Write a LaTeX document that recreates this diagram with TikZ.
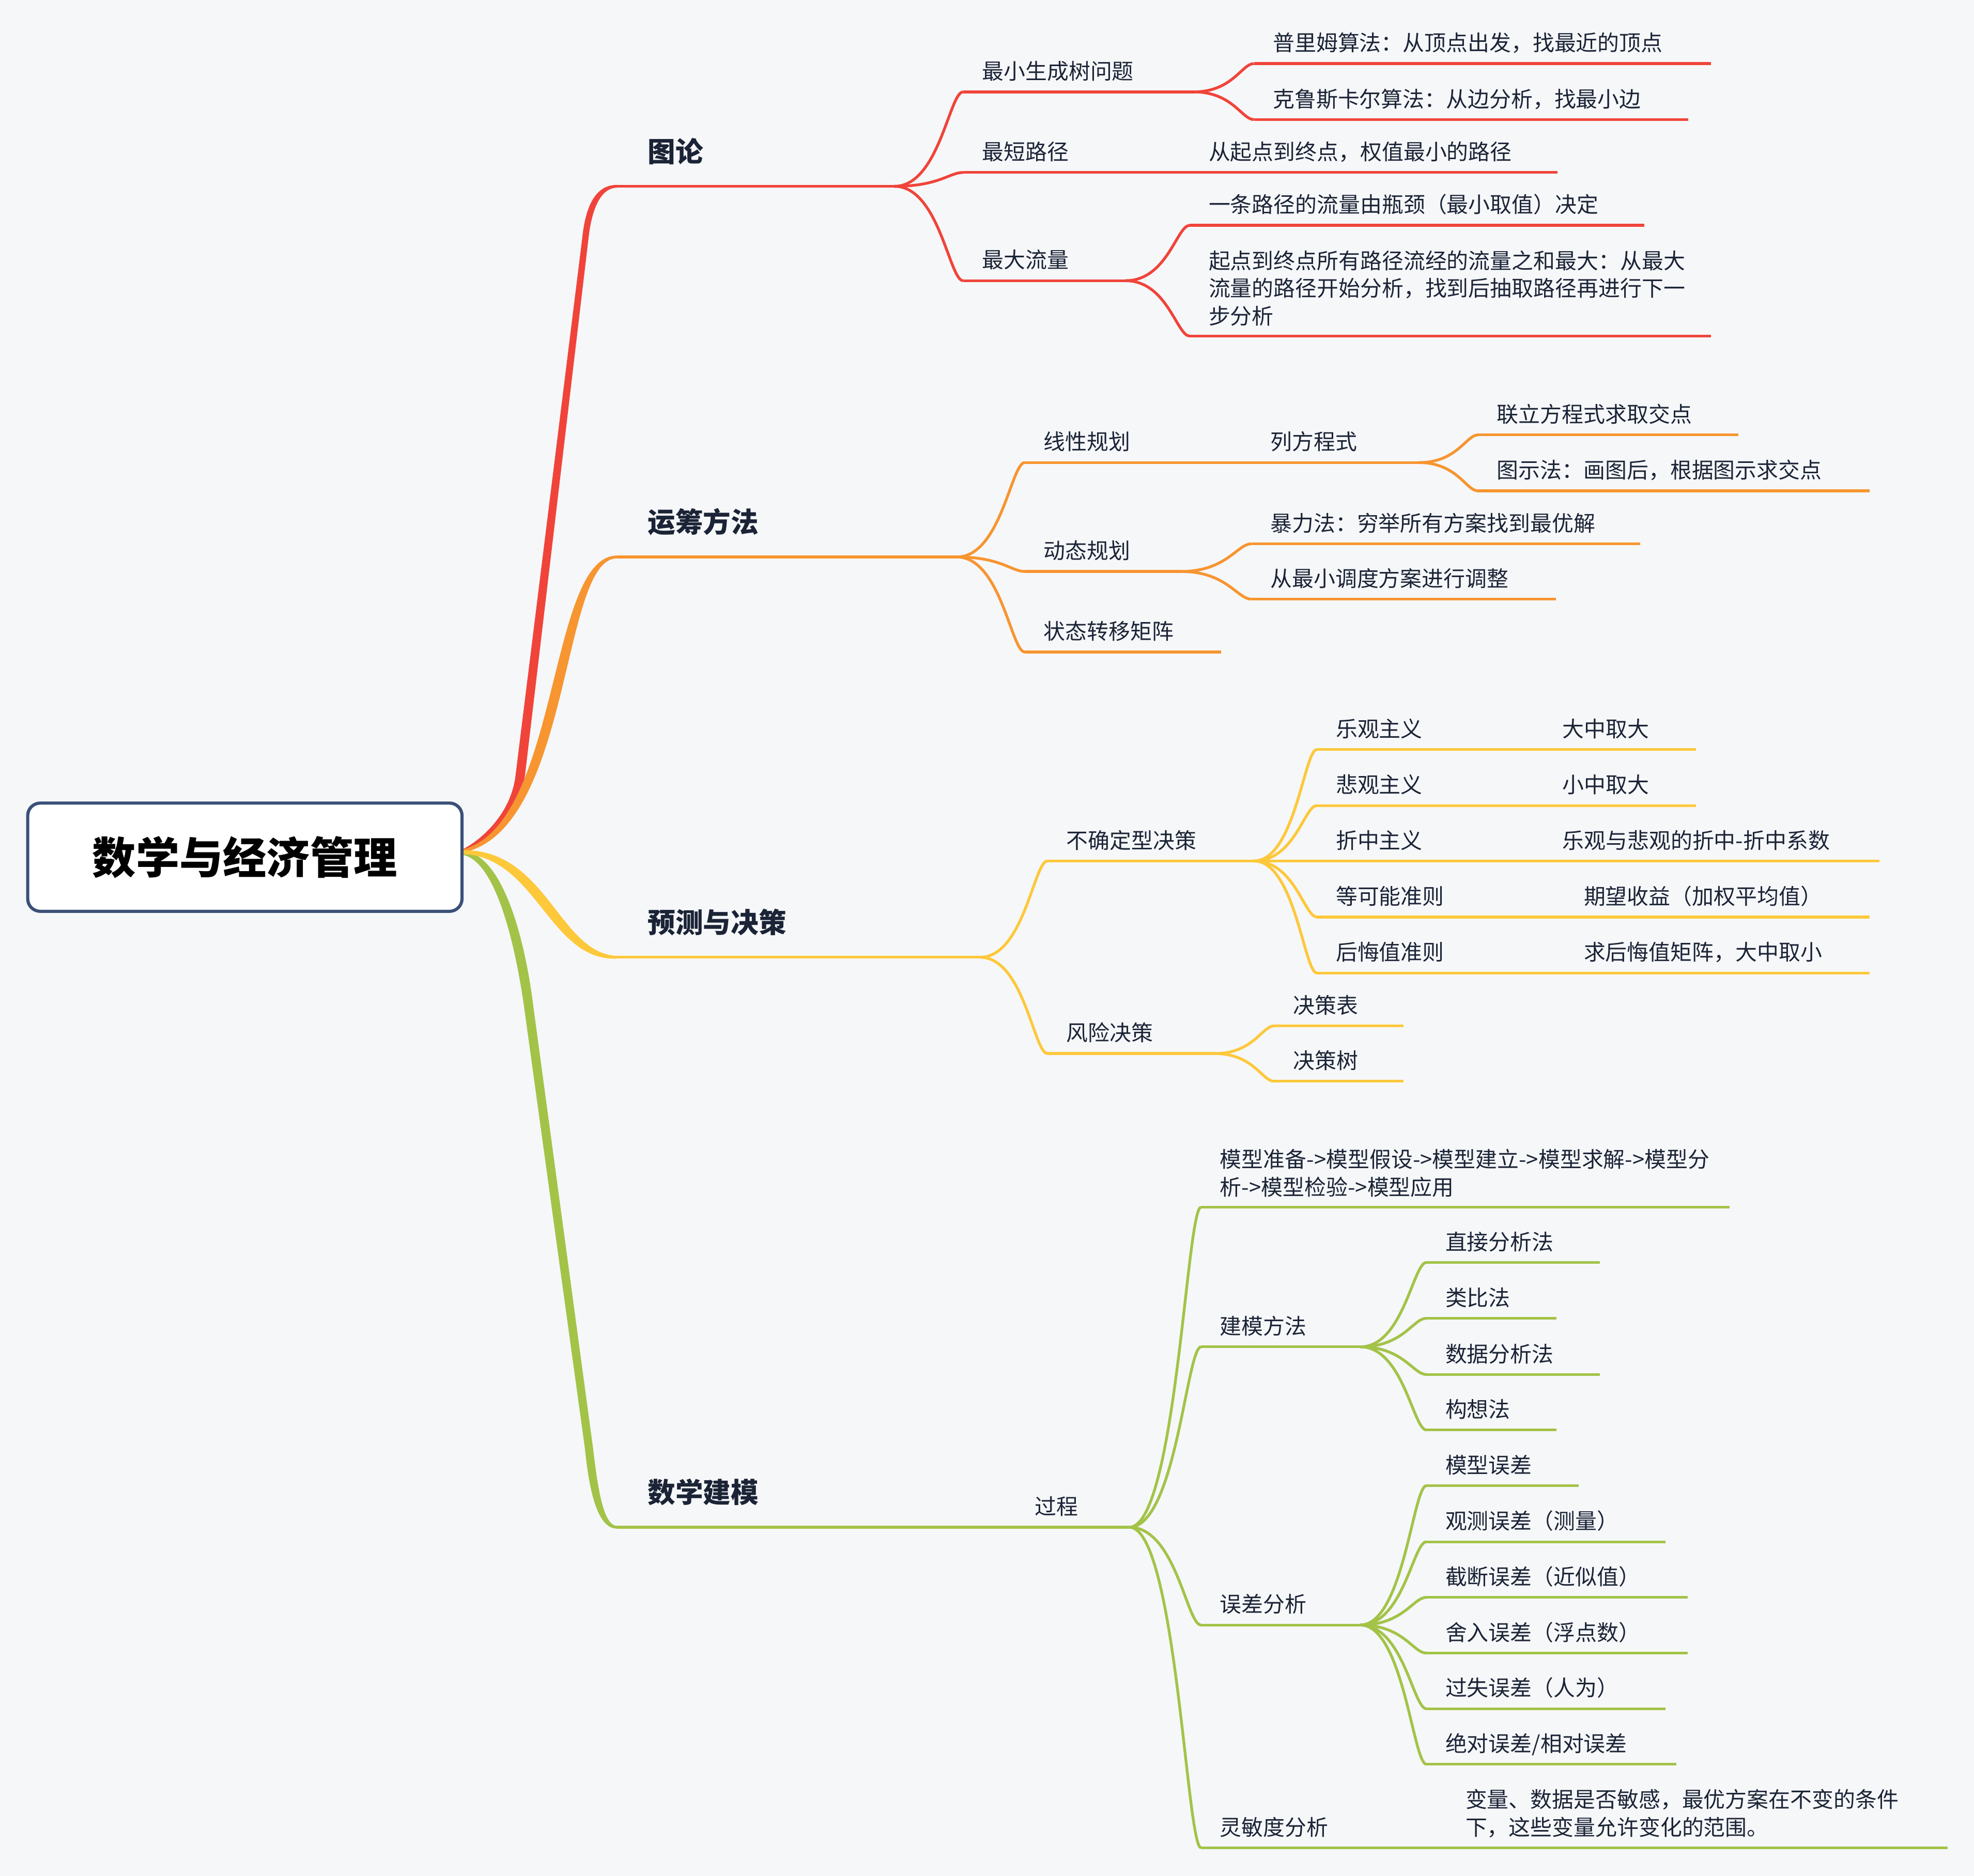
\documentclass[tikz,border=0pt]{standalone}
\usepackage{fontspec}
\setmainfont{Noto Sans CJK SC}
\usetikzlibrary{calc}

\definecolor{bg}{HTML}{F6F7F9}
\definecolor{ink}{HTML}{1B2436}
\definecolor{frame}{HTML}{3A5078}
\definecolor{cRed}{HTML}{F0443A}
\definecolor{cOrange}{HTML}{F79530}
\definecolor{cYellow}{HTML}{FDC83A}
\definecolor{cGreen}{HTML}{A3C348}

\tikzset{
  txt/.style={anchor=base west, inner sep=0pt, text=ink, font=\fontsize{8.6}{11}\selectfont},
  txtm/.style={txt, anchor=south west, align=left, yshift=-1.5pt},
  hauptast/.style={anchor=base west, inner sep=0pt, text=ink, font=\fontsize{11}{13}\selectfont\bfseries},
  wurzel/.style={draw=frame, fill=white, line width=1.25pt, rounded corners=5pt,
    minimum width=172.5pt, minimum height=43pt, text=black, font=\fontsize{17.3}{20}\selectfont\bfseries},
  curvy/.style={to path={.. controls ($(\tikztostart)!0.65!(\tikztostart -| \tikztotarget)$)
    and ($(\tikztotarget)!0.2!(\tikztotarget -| \tikztostart)$) .. (\tikztotarget)}}
}

% Thema mit Unterstrich: Name, x Anfang, x Ende, y, Text
\newcommand{\topic}[6][txt]{
  \coordinate (#2-s) at (#3,#5);
  \coordinate (#2-e) at (#4,#5);
  \draw (#2-s) -- (#2-e);
  \node[#1] (#2) at (#3+14,#5-10) {#6};
}
\newcommand{\maintopic}[4]{
  \coordinate (#1-s) at (490,#3);
  \coordinate (#1-e) at (#2,#3);
  \draw (#1-s) -- (#1-e);
  \node[hauptast] (#1) at (513.5,#3-19.5) {#4};
}

\begin{document}
\begin{tikzpicture}[x=0.5pt,y=-0.5pt]
  \fill[bg] (0,0) rectangle (1568,1490.4);

  % Hauptaeste als verjuengte Flaechen
  \fill[cRed] (367,675) .. controls (383,667) and (406,646) .. (409.5,616) -- (462.5,189)
    .. controls (465.5,160) and (475,146.9) .. (490,146.9) -- (490,149.1)
    .. controls (479,149.1) and (470.5,162) .. (467.5,189) -- (417,616)
    .. controls (412,652) and (388,673) .. (367,677) -- cycle;
  \fill[cOrange] (367,675) .. controls (445,656) and (435,441.4) .. (490,441.4) -- (490,443.6)
    .. controls (445,443.6) and (455,660) .. (367,677.5) -- cycle;
  \fill[cGreen] (367,676) .. controls (397,677) and (416,738) .. (423.7,800) -- (471,1150)
    .. controls (474.5,1180) and (479,1212.2) .. (490,1212.2) -- (490,1214.4)
    .. controls (476,1214.4) and (468.5,1190) .. (464.5,1150) -- (416.3,800)
    .. controls (408,742) and (392,683) .. (367,679) -- cycle;
  \fill[cYellow] (367,675.5) .. controls (433.9,673.9) and (443.9,757.4) .. (490,759.4) -- (490,761.6)
    .. controls (436.1,763.6) and (426.1,680.1) .. (367,678.5) -- cycle;

  % Graphentheorie
  \begin{scope}[cRed, line width=1.1pt]
    \maintopic{tl}{710.5}{148}{图论}
    \topic{mst}{765}{948}{73}{最小生成树问题}
    \topic{prim}{996}{1359}{50.5}{普里姆算法：从顶点出发，找最近的顶点}
    \topic{krus}{996}{1341}{95}{克鲁斯卡尔算法：从边分析，找最小边}
    \topic{sp}{765}{894}{137}{最短路径}
    \topic{spw}{945}{1237}{137}{从起点到终点，权值最小的路径}
    \topic{mf}{765}{894}{223}{最大流量}
    \topic{mfa}{945}{1306}{179}{一条路径的流量由瓶颈（最小取值）决定}
    \topic[txtm]{mfb}{945}{1359}{267}{起点到终点所有路径流经的流量之和最大：从最大\\流量的路径开始分析，找到后抽取路径再进行下一\\步分析}
    \draw (tl-e) to[curvy] (mst-s);
    \draw (tl-e) to[curvy] (sp-s);
    \draw (tl-e) to[curvy] (mf-s);
    \draw (mst-e) to[curvy] (prim-s);
    \draw (mst-e) to[curvy] (krus-s);
    \draw (sp-e) -- (spw-s);
    \draw (mf-e) to[curvy] (mfa-s);
    \draw (mf-e) to[curvy] (mfb-s);
  \end{scope}

  % Operations Research
  \begin{scope}[cOrange, line width=1.1pt]
    \maintopic{yc}{760}{442.5}{运筹方法}
    \topic{lp}{814}{938}{367.5}{线性规划}
    \topic{lfc}{994}{1127}{367.5}{列方程式}
    \topic{lfca}{1174}{1381}{345.5}{联立方程式求取交点}
    \topic{lfcb}{1174}{1485}{390}{图示法：画图后，根据图示求交点}
    \topic{dp}{814}{938}{454}{动态规划}
    \topic{dpa}{994}{1303}{432}{暴力法：穷举所有方案找到最优解}
    \topic{dpb}{994}{1236}{476}{从最小调度方案进行调整}
    \topic{ztz}{814}{970}{518}{状态转移矩阵}
    \draw (yc-e) to[curvy] (lp-s);
    \draw (yc-e) to[curvy] (dp-s);
    \draw (yc-e) to[curvy] (ztz-s);
    \draw (lp-e) -- (lfc-s);
    \draw (lfc-e) to[curvy] (lfca-s);
    \draw (lfc-e) to[curvy] (lfcb-s);
    \draw (dp-e) to[curvy] (dpa-s);
    \draw (dp-e) to[curvy] (dpb-s);
  \end{scope}

  % Prognose und Entscheidung
  \begin{scope}[cYellow, line width=1.1pt]
    \maintopic{yj}{778.5}{760.5}{预测与决策}
    \topic{bqd}{832}{996}{684}{不确定型决策}
    \topic{fx}{832}{965}{837}{风险决策}
    \draw (yj-e) to[curvy] (bqd-s);
    \draw (yj-e) to[curvy] (fx-s);
    \foreach \y/\pe/\cs/\ce/\lab/\erg [count=\i] in {
        595.5/1170/1226/1347/乐观主义/大中取大,
        640/1170/1226/1347/悲观主义/小中取大,
        684/1170/1226/1493/折中主义/乐观与悲观的折中-折中系数,
        728.5/1187/1243/1485/等可能准则/期望收益（加权平均值）,
        773/1187/1243/1485/后悔值准则/求后悔值矩阵，大中取小} {
      \topic{kr\i}{1046}{\pe}{\y}{\lab}
      \topic{kra\i}{\cs}{\ce}{\y}{\erg}
      \draw (bqd-e) to[curvy] (kr\i-s);
      \draw (kr\i-e) -- (kra\i-s);
    }
    \topic{fxa}{1012}{1115}{815}{决策表}
    \topic{fxb}{1012}{1115}{859}{决策树}
    \draw (fx-e) to[curvy] (fxa-s);
    \draw (fx-e) to[curvy] (fxb-s);
  \end{scope}

  % Mathematische Modellierung
  \begin{scope}[cGreen, line width=1.1pt]
    \maintopic{jm}{757}{1213.3}{数学建模}
    \topic{gc}{807}{897}{1213.3}{过程}
    \draw (jm-e) -- (gc-s);
    \topic[txtm]{lc}{954}{1374}{959}{模型准备->模型假设->模型建立->模型求解->模型分\\析->模型检验->模型应用}
    \topic{jmf}{954}{1080.5}{1070}{建模方法}
    \topic{wc}{954}{1080.5}{1291}{误差分析}
    \topic{lmd}{954}{1094}{1468}{灵敏度分析}
    \topic[txtm]{lmda}{1149}{1547}{1468}{变量、数据是否敏感，最优方案在不变的条件\\下，这些变量允许变化的范围。}
    \foreach \n in {lc,jmf,wc,lmd}
      \draw (gc-e) to[curvy] (\n-s);
    \draw (lmd-e) -- (lmda-s);
    \foreach \y/\e/\lab [count=\i] in {1003/1271/直接分析法, 1047.3/1236.5/类比法,
        1092/1271/数据分析法, 1136/1236.5/构想法} {
      \topic{jmf\i}{1133}{\e}{\y}{\lab}
      \draw (jmf-e) to[curvy] (jmf\i-s);
    }
    \foreach \y/\e/\lab [count=\i] in {1180.3/1254/模型误差, 1224.9/1323/观测误差（测量）,
        1269/1340.6/截断误差（近似值）, 1313.3/1340.6/舍入误差（浮点数）,
        1357.5/1323/过失误差（人为）, 1401.6/1331.6/{绝对误差/相对误差}} {
      \topic{wc\i}{1133}{\e}{\y}{\lab}
      \draw (wc-e) to[curvy] (wc\i-s);
    }
  \end{scope}

  % Wurzelknoten
  \node[wurzel] (root) at (194.5,681) {数学与经济管理};
\end{tikzpicture}
\end{document}
